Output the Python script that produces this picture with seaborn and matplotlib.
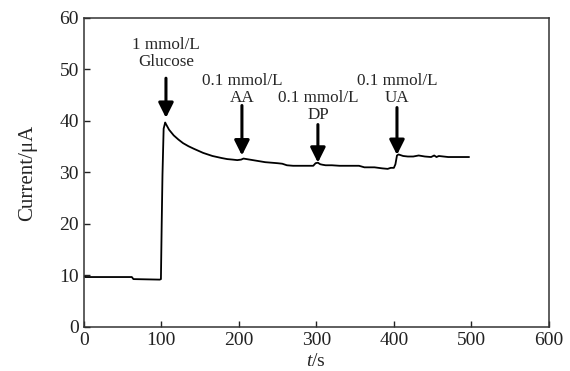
import pandas as pd
import matplotlib.pyplot as plt
import seaborn as sns

# amperometric response
t_s = [0, 2, 30, 62, 64, 98, 99.5, 100.5, 101.5, 103, 105, 106, 110, 116, 122, 128,
       135, 142, 148, 154, 160, 166, 172, 178, 185, 192, 198, 203, 206, 210, 218,
       226, 234, 242, 250, 256, 262, 270, 280, 290, 296, 299, 302, 305, 308, 312,
       320, 330, 345, 355, 362, 375, 385, 392, 396, 400, 402, 404, 406, 412, 418,
       425, 432, 440, 448, 452, 455, 458, 470, 485, 497]
current = [9.9, 9.7, 9.7, 9.7, 9.3, 9.2, 9.3, 20.0, 29.5, 38.5, 39.7, 39.4, 38.3,
           37.2, 36.4, 35.7, 35.1, 34.6, 34.2, 33.8, 33.5, 33.2, 33.0, 32.8, 32.6,
           32.5, 32.4, 32.5, 32.7, 32.6, 32.4, 32.2, 32.0, 31.9, 31.8, 31.7, 31.4,
           31.3, 31.3, 31.3, 31.3, 31.8, 31.9, 31.6, 31.5, 31.4, 31.4, 31.3, 31.3,
           31.3, 31.0, 31.0, 30.8, 30.7, 30.9, 30.9, 31.6, 33.3, 33.5, 33.2, 33.1,
           33.1, 33.3, 33.1, 33.0, 33.3, 33.0, 33.2, 33.0, 33.0, 33.0]

# additions: label, time of injection, label y, arrow top y, arrow tip y
add_labels = ['1 mmol/L\nGlucose', '0.1 mmol/L\nAA', '0.1 mmol/L\nDP', '0.1 mmol/L\nUA']
add_t = [106, 204, 302, 404]
label_y = [49.9, 43.0, 39.6, 43.0]
arrow_top = [48.3, 43.0, 39.3, 42.6]
arrow_tip = [40.6, 33.3, 31.9, 33.4]

df = pd.DataFrame({'t': t_s, 'current': current})

sns.set_style('ticks')
plt.rcParams['font.family'] = ['Liberation Serif', 'DejaVu Serif']
plt.rcParams['mathtext.fontset'] = 'custom'
plt.rcParams['mathtext.it'] = 'Liberation Serif:italic'
plt.rcParams['mathtext.rm'] = 'Liberation Serif'

fig = plt.figure(figsize=(5.7, 3.71), dpi=100)
ax = fig.add_axes([0.147, 0.1186, 0.816, 0.833])

sns.lineplot(data=df, x='t', y='current', ax=ax, color='black', linewidth=1.3)

for lab, x, ly, top, tip in zip(add_labels, add_t, label_y, arrow_top, arrow_tip):
    ax.annotate('', xy=(x, tip), xytext=(x, top),
                arrowprops=dict(arrowstyle='-|>,head_width=0.45,head_length=0.9',
                                color='black', lw=2.2, shrinkA=0, shrinkB=0))
    ax.text(x, ly, lab, ha='center', va='bottom', fontsize=12.3, linespacing=1.05)

ax.set_xlim(0, 600)
ax.set_ylim(0, 60)
ax.set_xticks(range(0, 601, 100))
ax.set_yticks(range(0, 61, 10))
ax.tick_params(direction='in', length=4, width=1, labelsize=14, colors='#222222')
for sp in ax.spines.values():
    sp.set_linewidth(1.1)
    sp.set_color('#333333')
ax.set_xlabel(r'$t$/s', fontsize=14, labelpad=3)
ax.set_ylabel('Current/μA', fontsize=15, labelpad=16)

fig.savefig('out.png', dpi=100)
